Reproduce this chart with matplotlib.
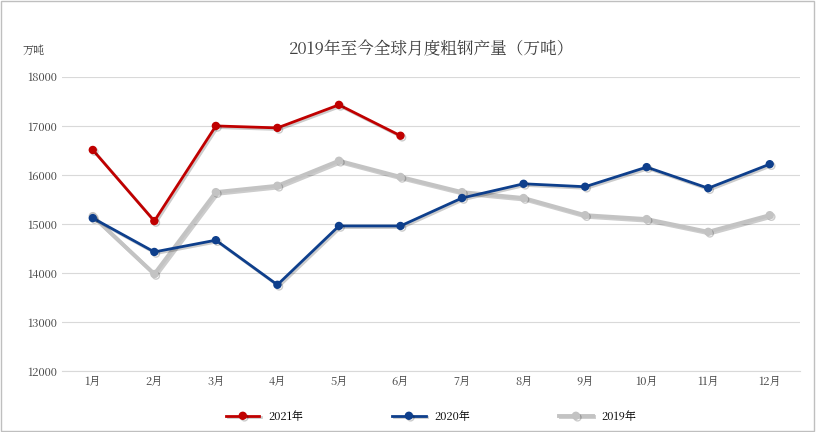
import matplotlib
matplotlib.use("Agg")
import matplotlib.pyplot as plt
import matplotlib.patheffects as pe
from matplotlib import font_manager

# pick whichever CJK family is actually registered
cjk = [f.name for f in font_manager.fontManager.ttflist if "CJK" in f.name]
family = "Noto Sans CJK SC" if "Noto Sans CJK SC" in cjk else (cjk[0] if cjk else "DejaVu Sans")
plt.rcParams["font.family"] = family

months = ["1月", "2月", "3月", "4月", "5月", "6月", "7月", "8月", "9月", "10月", "11月", "12月"]
y2021 = [16510, 15060, 17000, 16960, 17430, 16800]
y2020 = [15120, 14430, 14670, 13760, 14960, 14960, 15530, 15820, 15760, 16160, 15730, 16220]
y2019 = [15160, 13980, 15650, 15780, 16290, 15960, 15650, 15530, 15180, 15100, 14840, 15180]

fig = plt.figure(figsize=(8.16, 4.32), dpi=100)
ax = fig.add_axes([0.076, 0.141, 0.905, 0.681])
fig.patches.append(plt.Rectangle((0.001, 0.002), 0.997, 0.995, transform=fig.transFigure,
                                 fill=False, edgecolor="#bfbfbf", linewidth=1))

shadow = [pe.SimpleLineShadow(offset=(1.2, -1.2), alpha=0.2), pe.Normal()]
x = list(range(len(months)))
ax.plot(x, y2019, color="#c3c3c3", linewidth=2.8, marker="o", markersize=5,
        label="2019年", path_effects=shadow, zorder=3)
ax.plot(x, y2020, color="#0e3f8c", linewidth=2.0, marker="o", markersize=5,
        label="2020年", path_effects=shadow, zorder=4)
ax.plot(x[:len(y2021)], y2021, color="#c00000", linewidth=2.0, marker="o", markersize=5,
        label="2021年", path_effects=shadow, zorder=5)

ax.set_ylim(12000, 18000)
ax.set_yticks(range(12000, 18001, 1000))
ax.set_xlim(-0.5, 11.5)
ax.set_xticks(x)
ax.set_xticklabels(months)
ax.tick_params(length=0, labelsize=8, colors="#404040")
ax.grid(axis="y", color="#d9d9d9", linewidth=0.8)
for s in ["top", "right", "left"]:
    ax.spines[s].set_visible(False)
ax.spines["bottom"].set_color("#d9d9d9")

ax.set_title("2019年至今全球月度粗钢产量（万吨）", fontsize=12, color="#404040", pad=16)
fig.text(0.028, 0.875, "万吨", fontsize=8, color="#404040")

h, l = ax.get_legend_handles_labels()
ax.legend(h[::-1], l[::-1], loc="upper center", bbox_to_anchor=(0.5, -0.1), ncol=3,
          frameon=False, fontsize=8, columnspacing=8, handlelength=3)

fig.savefig("out.png", dpi=100)
